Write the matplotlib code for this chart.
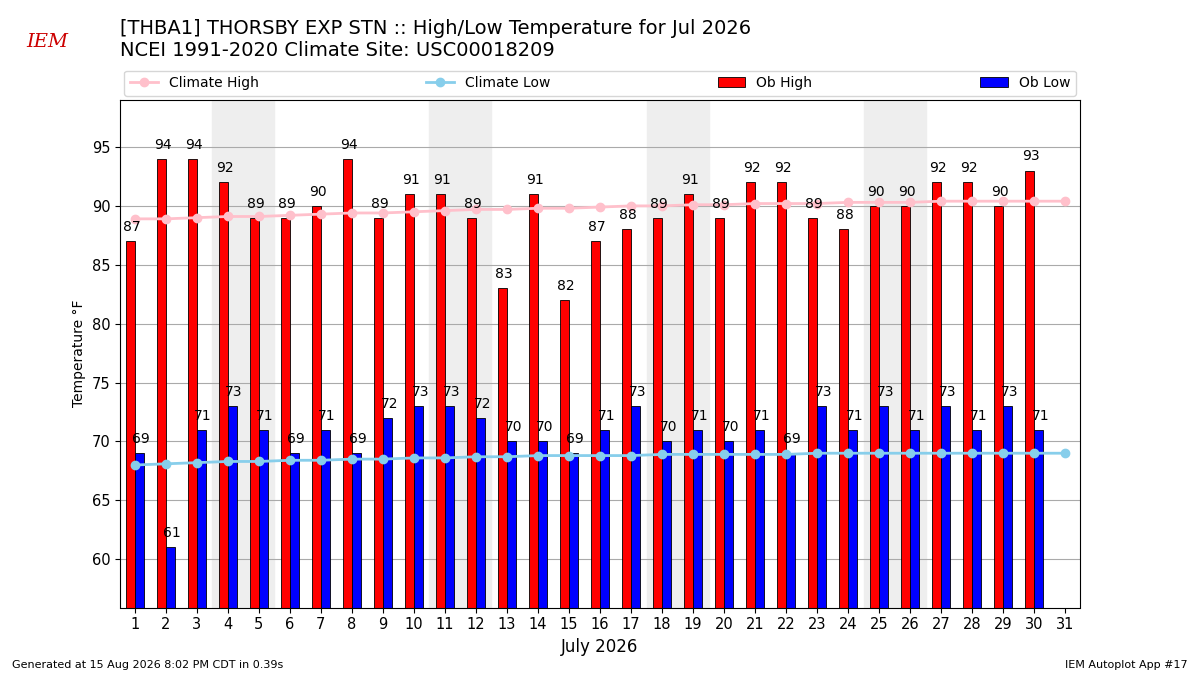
import numpy as np
import matplotlib
matplotlib.use("Agg")
import matplotlib.pyplot as plt

days = list(range(1, 32))
ob_high = [87, 94, 94, 92, 89, 89, 90, 94, 89, 91, 91, 89, 83, 91, 82, 87, 88, 89, 91, 89,
           92, 92, 89, 88, 90, 90, 92, 92, 90, 93]
ob_low = [69, 61, 71, 73, 71, 69, 71, 69, 72, 73, 73, 72, 70, 70, 69, 71, 73, 70, 71, 70,
          71, 69, 73, 71, 73, 71, 73, 71, 73, 71]
clim_high = [88.9, 88.9, 89.0, 89.1, 89.1, 89.2, 89.3, 89.4, 89.4, 89.5, 89.6, 89.7, 89.7, 89.8, 89.8, 89.9,
             90.0, 90.0, 90.1, 90.1, 90.2, 90.2, 90.2, 90.3, 90.3, 90.3, 90.4, 90.4, 90.4, 90.4, 90.4]
clim_low = [68.0, 68.1, 68.2, 68.3, 68.3, 68.4, 68.4, 68.5, 68.5, 68.6, 68.6, 68.7, 68.7, 68.8, 68.8, 68.8,
            68.8, 68.9, 68.9, 68.9, 68.9, 68.9, 69.0, 69.0, 69.0, 69.0, 69.0, 69.0, 69.0, 69.0, 69.0]
weekends = [4, 11, 18, 25]

fig = plt.figure(figsize=(12, 6.75), dpi=100)
ax = fig.add_axes([0.1, 0.1, 0.8, 0.752])

for d in weekends:
  ax.axvspan(d - 0.5, d + 1.5, color="#eeeeee", zorder=0)

ax.plot(days, clim_high, color="pink", marker="o", lw=2, label="Climate High", zorder=3)
ax.plot(days, clim_low, color="skyblue", marker="o", lw=2, label="Climate Low", zorder=3)

nd = len(ob_high)
x = np.array(days[:nd])
ax.bar(x - 0.15, ob_high, width=0.3, color="red", edgecolor="black", linewidth=0.6, label="Ob High", zorder=2)
ax.bar(x + 0.15, ob_low, width=0.3, color="blue", edgecolor="black", linewidth=0.6, label="Ob Low", zorder=2)
for xi, h, l in zip(x, ob_high, ob_low):
  ax.text(xi - 0.1, h + 0.6, str(h), ha="center", va="bottom", fontsize=10, zorder=4)
  ax.text(xi + 0.2, l + 0.6, str(l), ha="center", va="bottom", fontsize=10, zorder=4)

ax.set_xlim(0.52, 31.48)
ax.set_ylim(55.9, 99)
ax.set_yticks(range(60, 96, 5))
ax.set_xticks(days)
ax.tick_params(labelsize=10.5)
ax.yaxis.grid(True, color="#aaaaaa")
ax.set_axisbelow(True)
ax.set_ylabel("Temperature °F")
ax.set_xlabel("July 2026", fontsize=12)

ax.legend(ncol=4, loc="lower left", bbox_to_anchor=(0, 1.0, 1, 0.05), mode="expand",
          fontsize=10, borderaxespad=0.3)

fig.text(0.1, 0.95, "[THBA1] THORSBY EXP STN :: High/Low Temperature for Jul 2026", fontsize=14)
fig.text(0.1, 0.917, "NCEI 1991-2020 Climate Site: USC00018209", fontsize=14)
fig.text(0.01, 0.01, "Generated at 15 Aug 2026 8:02 PM CDT in 0.39s", fontsize=8)
fig.text(0.99, 0.01, "IEM Autoplot App #17", fontsize=8, ha="right")
fig.text(0.022, 0.93, "IEM", fontsize=14, color="#cc0000", style="italic", family="serif")

fig.savefig("out.png")
